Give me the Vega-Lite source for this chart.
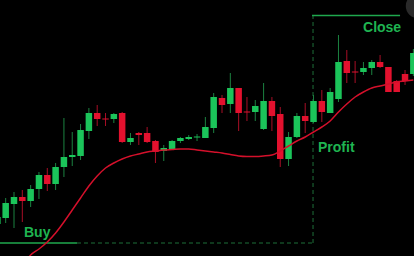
{
  "$schema": "https://vega.github.io/schema/vega-lite/v6.json",
  "width": 414,
  "height": 256,
  "autosize": {"type": "none"},
  "padding": 0,
  "background": "#000000",
  "config": {"view": {"stroke": null}, "scale": {"continuousPadding": 0}},
  "datasets": {
    "candles": [
      {"i":0,"open":32,"close":39,"high":43,"low":26},
      {"i":1,"open":38,"close":53,"high":58,"low":33},
      {"i":2,"open":52,"close":59,"high":64,"low":28},
      {"i":3,"open":59,"close":55,"high":66,"low":34},
      {"i":4,"open":55,"close":67,"high":71,"low":49},
      {"i":5,"open":67,"close":81,"high":84,"low":57},
      {"i":6,"open":81,"close":72,"high":88,"low":65},
      {"i":7,"open":72,"close":89,"high":93,"low":66},
      {"i":8,"open":89,"close":99,"high":138,"low":79},
      {"i":9,"open":99,"close":101,"high":124,"low":90},
      {"i":10,"open":100,"close":126,"high":132,"low":96},
      {"i":11,"open":125,"close":143,"high":148,"low":117},
      {"i":12,"open":143,"close":137,"high":151,"low":130},
      {"i":13,"open":137.5,"close":136.5,"high":143,"low":130},
      {"i":14,"open":137,"close":142,"high":143,"low":133},
      {"i":15,"open":143,"close":114,"high":144,"low":113},
      {"i":16,"open":114,"close":118,"high":123,"low":111},
      {"i":17,"open":123,"close":121,"high":124,"low":111},
      {"i":18,"open":123,"close":114,"high":129,"low":113},
      {"i":19,"open":115,"close":104,"high":116,"low":93},
      {"i":20,"open":105,"close":108,"high":111,"low":95},
      {"i":21,"open":107,"close":115,"high":116,"low":106},
      {"i":22,"open":115,"close":118,"high":119,"low":113},
      {"i":23,"open":117,"close":119,"high":121,"low":116},
      {"i":24,"open":118.5,"close":119.5,"high":122,"low":115},
      {"i":25,"open":118,"close":129,"high":139,"low":118},
      {"i":26,"open":128,"close":159,"high":163,"low":123},
      {"i":27,"open":158,"close":151,"high":161,"low":143},
      {"i":28,"open":152,"close":168,"high":183,"low":143},
      {"i":29,"open":168,"close":143,"high":168,"low":125},
      {"i":30,"open":144.5,"close":143.5,"high":159,"low":135},
      {"i":31,"open":144,"close":150,"high":156,"low":135},
      {"i":32,"open":127,"close":155,"high":173,"low":126},
      {"i":33,"open":155,"close":140,"high":159,"low":125},
      {"i":34,"open":142,"close":97,"high":149,"low":89},
      {"i":35,"open":97,"close":119,"high":124,"low":90},
      {"i":36,"open":119,"close":140,"high":143,"low":118},
      {"i":37,"open":140,"close":135,"high":153,"low":123},
      {"i":38,"open":134,"close":155,"high":161,"low":133},
      {"i":39,"open":155,"close":144,"high":166,"low":134},
      {"i":40,"open":143,"close":164,"high":168,"low":143},
      {"i":41,"open":157,"close":194,"high":221,"low":154},
      {"i":42,"open":195,"close":183,"high":206,"low":173},
      {"i":43,"open":184.5,"close":183.5,"high":195,"low":173},
      {"i":44,"open":184,"close":188,"high":194,"low":181},
      {"i":45,"open":188,"close":194,"high":196,"low":181},
      {"i":46,"open":194,"close":189,"high":201,"low":188},
      {"i":47,"open":189,"close":164,"high":189,"low":164},
      {"i":48,"open":175,"close":164,"high":176,"low":164},
      {"i":49,"open":182,"close":175,"high":186,"low":171},
      {"i":50,"open":182,"close":203,"high":207,"low":180}
    ],
    "ma": [
      {"i":2,"ma":-22},{"i":3,"ma":-10},{"i":4,"ma":1},{"i":5,"ma":7},{"i":6,"ma":14},
      {"i":7,"ma":23},{"i":8,"ma":34},{"i":9,"ma":46},{"i":10,"ma":58},{"i":11,"ma":70},
      {"i":12,"ma":80},{"i":13,"ma":88},{"i":14,"ma":93},{"i":15,"ma":97},{"i":16,"ma":100},
      {"i":17,"ma":102},{"i":18,"ma":104},{"i":19,"ma":105},{"i":20,"ma":106},{"i":21,"ma":106.5},
      {"i":22,"ma":107},{"i":23,"ma":107},{"i":24,"ma":106},{"i":25,"ma":105},{"i":26,"ma":104},
      {"i":27,"ma":103},{"i":28,"ma":101.5},{"i":29,"ma":100},{"i":30,"ma":99.5},{"i":31,"ma":99.5},
      {"i":32,"ma":100},{"i":33,"ma":101},{"i":34,"ma":105},{"i":35,"ma":110},{"i":36,"ma":115},
      {"i":37,"ma":119},{"i":38,"ma":124},{"i":39,"ma":129},{"i":40,"ma":135},{"i":41,"ma":144},
      {"i":42,"ma":152},{"i":43,"ma":159},{"i":44,"ma":164},{"i":45,"ma":168},{"i":46,"ma":170},
      {"i":47,"ma":172},{"i":48,"ma":174},{"i":49,"ma":175},{"i":50,"ma":176}
    ]
  },
  "layer": [
    {
      "data": {"values": [
        {"i":9.57,"i2":37.94,"p":13,"p2":13},
        {"i":37.94,"i2":37.94,"p":13,"p2":240}
      ]},
      "mark": {"type": "rule", "color": "#1d6e38", "strokeWidth": 1, "strokeDash": [4, 3]},
      "encoding": {
        "x": {"field": "i", "type": "quantitative", "scale": {"domain": [0.317, 50.077], "nice": false, "zero": false, "padding": 0}, "axis": null},
        "x2": {"field": "i2"},
        "y": {"field": "p", "type": "quantitative", "scale": {"domain": [0, 256], "nice": false, "zero": false, "padding": 0}, "axis": null},
        "y2": {"field": "p2"}
      }
    },
    {
      "data": {"values": [
        {"i":0.317,"i2":9.57,"p":13,"p2":13},
        {"i":37.82,"i2":48.4,"p":240.5,"p2":240.5}
      ]},
      "mark": {"type": "rule", "color": "#1fa84e", "strokeWidth": 1.5},
      "encoding": {
        "x": {"field": "i", "type": "quantitative", "axis": null},
        "x2": {"field": "i2"},
        "y": {"field": "p", "type": "quantitative", "axis": null},
        "y2": {"field": "p2"}
      }
    },
    {
      "data": {"name": "candles"},
      "mark": {"type": "rule", "strokeWidth": 1, "clip": true},
      "encoding": {
        "x": {"field": "i", "type": "quantitative", "axis": null},
        "y": {"field": "low", "type": "quantitative", "axis": null},
        "y2": {"field": "high"},
        "color": {"condition": {"test": "datum.close >= datum.open", "value": "#1b8240"}, "value": "#a80e26"}
      }
    },
    {
      "data": {"name": "candles"},
      "mark": {"type": "bar", "size": 6.5, "clip": true},
      "encoding": {
        "x": {"field": "i", "type": "quantitative", "axis": null},
        "y": {"field": "open", "type": "quantitative", "axis": null},
        "y2": {"field": "close"},
        "color": {"condition": {"test": "datum.close >= datum.open", "value": "#1bc45a"}, "value": "#e3112e"}
      }
    },
    {
      "data": {"name": "ma"},
      "mark": {"type": "line", "color": "#d4102b", "strokeWidth": 1.5, "interpolate": "monotone", "clip": true},
      "encoding": {
        "x": {"field": "i", "type": "quantitative", "axis": null},
        "y": {"field": "ma", "type": "quantitative", "axis": null}
      }
    },
    {
      "data": {"values": [
        {"i":3.2,"p":19,"label":"Buy"},
        {"i":38.54,"p":104,"label":"Profit"},
        {"i":43.95,"p":224,"label":"Close"}
      ]},
      "mark": {"type": "text", "align": "left", "baseline": "alphabetic", "font": "Liberation Sans", "fontWeight": "bold", "fontSize": 14, "color": "#1fb451"},
      "encoding": {
        "x": {"field": "i", "type": "quantitative", "axis": null},
        "y": {"field": "p", "type": "quantitative", "axis": null},
        "text": {"field": "label"}
      }
    },
    {
      "data": {"values": [{"i":50.56,"p":250}]},
      "mark": {"type": "point", "filled": true, "shape": "circle", "size": 600, "color": "#2a2a2a", "opacity": 1, "clip": true},
      "encoding": {
        "x": {"field": "i", "type": "quantitative", "axis": null},
        "y": {"field": "p", "type": "quantitative", "axis": null}
      }
    }
  ]
}
